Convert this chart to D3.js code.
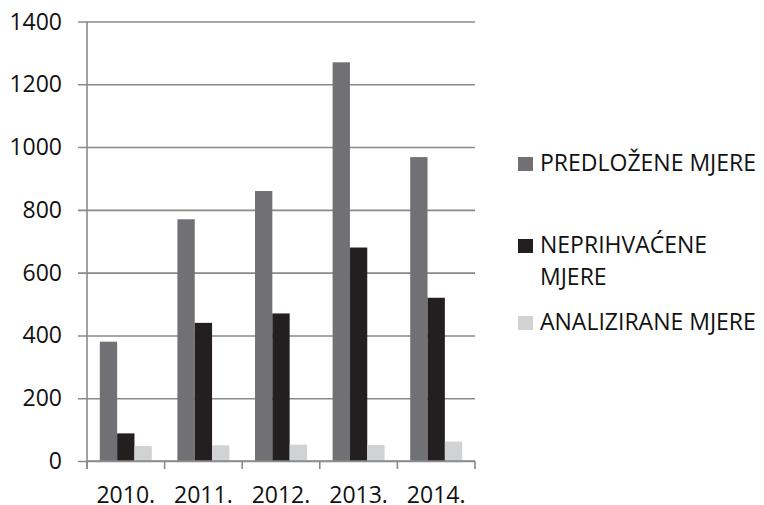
<!DOCTYPE html>
<html>
<head>
<meta charset="utf-8">
<script src="https://cdn.jsdelivr.net/npm/d3@7"></script>
<style>
  body { margin: 0; background: #fff; }
  svg { display: block; }
  text { font-family: "Open Sans", sans-serif; fill: #111; }
</style>
</head>
<body>
<div id="chart"></div>
<script>
const years = ["2010.", "2011.", "2012.", "2013.", "2014."];
const seriesNames = ["PREDLOŽENE MJERE", "NEPRIHVAĆENE MJERE", "ANALIZIRANE MJERE"];
const predlozene = [380, 770, 860, 1270, 968];
const neprihvacene = [88, 440, 470, 680, 520];
const analizirane = [48, 50, 52, 51, 62];
const yTicks = [0, 200, 400, 600, 800, 1000, 1200, 1400];

const colors = ["#717175", "#231f20", "#d1d2d4"];
const seriesValues = [predlozene, neprihvacene, analizirane];

const width = 764;
const height = 505;
const plot = { left: 87, right: 475, top: 21.5, bottom: 461 };
const gridColor = "#8a8a8a";
const fontSize = 23;

const svg = d3
	.select("#chart")
	.append("svg")
	.attr("width", width)
	.attr("height", height);

const x = d3.scaleBand().domain(years).range([plot.left, plot.right]).padding(0);

const xSub = d3
	.scaleBand()
	.domain(d3.range(seriesNames.length))
	.range([0, x.bandwidth()])
	.paddingInner(0)
	.paddingOuter(0.74);

const y = d3.scaleLinear().domain([0, 1400]).range([plot.bottom, plot.top]);

// gridlines + y axis (ticks stick out to the left)
const yAxis = svg
	.append("g")
	.attr("transform", `translate(${plot.left},0)`)
	.call(
		d3.axisLeft(y)
			.tickValues(yTicks)
			.tickSize(-(plot.right - plot.left))
			.tickSizeOuter(0)
			.tickPadding(0)
			.tickFormat("")
	);
yAxis.select(".domain").remove();
yAxis.selectAll(".tick line")
	.attr("x1", -9)
	.attr("stroke", gridColor)
	.attr("stroke-width", 1.6);

svg.append("g")
	.selectAll("text")
	.data(yTicks)
	.join("text")
	.attr("x", 62)
	.attr("y", (d) => y(d) + 8)
	.attr("text-anchor", "end")
	.style("font-size", fontSize + "px")
	.text((d) => d);

// bars
const groups = svg
	.append("g")
	.selectAll("g")
	.data(years)
	.join("g")
	.attr("transform", (d) => `translate(${x(d)},0)`);

groups
	.selectAll("rect")
	.data((d, i) => seriesValues.map((vals, s) => ({ s, v: vals[i] })))
	.join("rect")
	.attr("x", (d) => xSub(d.s))
	.attr("width", xSub.bandwidth())
	.attr("y", (d) => y(d.v))
	.attr("height", (d) => y(0) - y(d.v))
	.attr("fill", (d) => colors[d.s]);

// x axis line and ticks on category boundaries
const boundaries = years.map((d) => x(d)).concat([plot.right]);
svg.append("line")
	.attr("x1", plot.left)
	.attr("x2", plot.right)
	.attr("y1", y(0))
	.attr("y2", y(0))
	.attr("stroke", gridColor)
	.attr("stroke-width", 1.6);

svg.append("g")
	.selectAll("line")
	.data(boundaries)
	.join("line")
	.attr("x1", (d) => d)
	.attr("x2", (d) => d)
	.attr("y1", y(0))
	.attr("y2", y(0) + 8)
	.attr("stroke", gridColor)
	.attr("stroke-width", 1.6);

// y axis vertical line
svg.append("line")
	.attr("x1", plot.left)
	.attr("x2", plot.left)
	.attr("y1", y(1400))
	.attr("y2", y(0) + 8)
	.attr("stroke", gridColor)
	.attr("stroke-width", 1.6);

svg.append("g")
	.selectAll("text")
	.data(years)
	.join("text")
	.attr("x", (d) => x(d) + x.bandwidth() / 2)
	.attr("y", 503)
	.attr("text-anchor", "middle")
	.style("font-size", fontSize + "px")
	.text((d) => d);

// legend
const legendX = 518;
const legendBaselines = [171, 253, 330];
const lineHeight = 32;
const maxTextWidth = width - 540 - 4;

const legend = svg
	.append("g")
	.selectAll("g")
	.data(seriesNames)
	.join("g")
	.attr("transform", (d, i) => `translate(${legendX},${legendBaselines[i]})`);

legend
	.append("rect")
	.attr("x", 0)
	.attr("y", -14)
	.attr("width", 15)
	.attr("height", 14)
	.attr("fill", (d, i) => colors[i]);

legend.each(function (name) {
	const g = d3.select(this);
	const text = g
		.append("text")
		.attr("x", 22)
		.attr("y", 0)
		.style("font-size", fontSize + "px");
	const words = name.split(" ");
	let line = [];
	let tspan = text.append("tspan").attr("x", 22).attr("dy", 0);
	words.forEach((w) => {
		line.push(w);
		tspan.text(line.join(" "));
		if (tspan.node().getComputedTextLength() > maxTextWidth && line.length > 1) {
			line.pop();
			tspan.text(line.join(" "));
			line = [w];
			tspan = text.append("tspan").attr("x", 22).attr("dy", lineHeight).text(w);
		}
	});
});
</script>
</body>
</html>
